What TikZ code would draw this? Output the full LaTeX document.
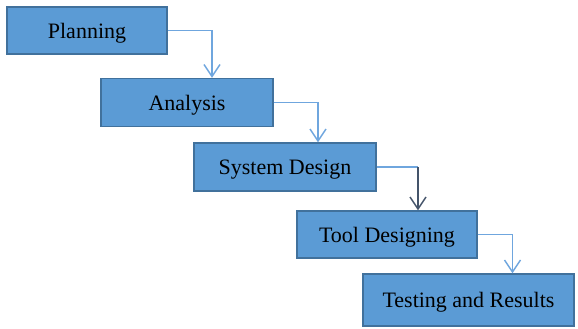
\documentclass[tikz,border=0pt]{standalone}
\usepackage{fontspec}
\setmainfont{Liberation Serif}
\usetikzlibrary{arrows.meta}
\definecolor{boxfill}{HTML}{5B9BD5}
\definecolor{boxline}{HTML}{41719C}
\definecolor{flowlight}{HTML}{6FA6DE}
\definecolor{flowdark}{HTML}{44546A}
\begin{document}
\begin{tikzpicture}[
        x=1pt, y=-1pt,
        font=\fontsize{22}{26}\selectfont,
        phase/.style={draw=boxline, line width=1.3pt, fill=boxfill, inner sep=0pt, text depth=0pt, align=center},
        flow/.style={draw=flowlight, line width=1.5pt, -{Straight Barb[length=12pt, width=16pt, line width=1.5pt]}}
    ]
        \useasboundingbox (0,0) rectangle (578,329);

        \node[phase, minimum width=160pt, minimum height=47pt] (plan) at (87,30.5) {Planning};
        \node[phase, minimum width=172pt, minimum height=48pt] (analysis) at (187,102.5) {Analysis};
        \node[phase, minimum width=182pt, minimum height=48pt] (design) at (285,167) {System Design};
        \node[phase, minimum width=180pt, minimum height=47pt] (tool) at (387,234.5) {Tool Designing};
        \node[phase, minimum width=211pt, minimum height=52pt] (test) at (468.5,300) {Testing and Results};

        \draw[flow] (plan.east) -| ([xshift=25pt]analysis.north);
        \draw[flow] (analysis.east) -| ([xshift=33pt]design.north);
        % the step down to Tool Designing turns dark after the corner
        \coordinate (bend) at ([xshift=31pt]tool.north |- design.east);
        \draw[draw=flowlight, line width=1.5pt] (design.east) -- (bend);
        \draw[flow, draw=flowdark] (bend) -- ([xshift=31pt]tool.north);
        \draw[flow] (tool.east) -| ([xshift=44pt]test.north);
    \end{tikzpicture}
\end{document}
